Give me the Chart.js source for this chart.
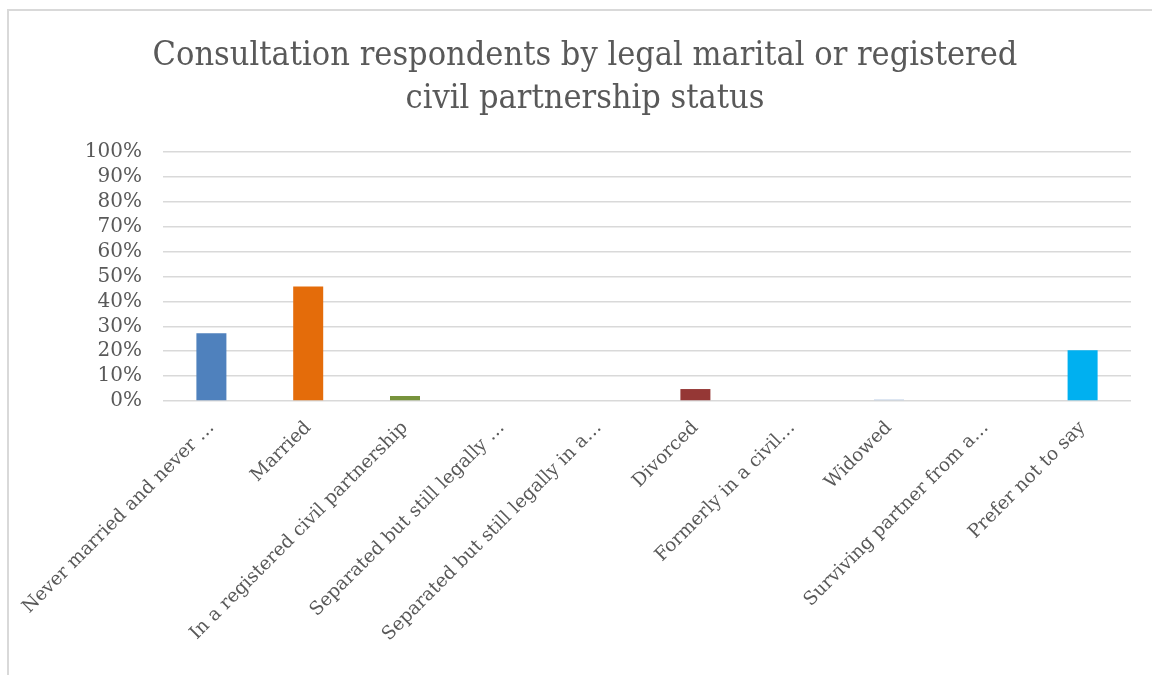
<!DOCTYPE html>
<html>
<head>
<meta charset="utf-8">
<script src="https://cdn.jsdelivr.net/npm/chart.js@4"></script>
<style>
  html, body { margin: 0; padding: 0; background: #fff; }
  .wrap { position: relative; width: 1152px; height: 675px; overflow: hidden; }
  .frame { position: absolute; left: 7px; top: 9px; width: 1200px; height: 700px; border: 2px solid #d9d9d9; box-sizing: border-box; }
  canvas { position: absolute; left: 0; top: 0; }
</style>
</head>
<body>
<div class="wrap">
  <div class="frame"></div>
  <canvas id="chart" width="1152" height="675"></canvas>
</div>
<script>
const categories = [
  'Never married and never …',
  'Married',
  'In a registered civil partnership',
  'Separated but still legally …',
  'Separated but still legally in a…',
  'Divorced',
  'Formerly in a civil…',
  'Widowed',
  'Surviving partner from a…',
  'Prefer not to say'
];
const shares = [27.2, 46, 2, 0, 0, 4.8, 0, 0.6, 0, 20.4];
const barColors = ['#4f81bd', '#e46c0a', '#77933c', '#4f81bd', '#4f81bd', '#953735', '#4f81bd', '#b9cde5', '#4f81bd', '#00b0f0'];
const titleLines = ['Consultation respondents by legal marital or registered', 'civil partnership status'];

const textColor = '#595959';

new Chart(document.getElementById('chart'), {
  type: 'bar',
  data: {
    labels: categories,
    datasets: [{
      data: shares,
      backgroundColor: barColors,
      barPercentage: 0.31,
      categoryPercentage: 1
    }]
  },
  options: {
    responsive: false,
    animation: false,
    // left padding pushes the title centre right, like the original
    layout: { padding: { left: 39, right: 21, top: 0, bottom: 0 } },
    plugins: {
      legend: { display: false },
      tooltip: { enabled: false },
      title: {
        display: true,
        text: titleLines,
        color: textColor,
        font: { family: 'DejaVu Serif Condensed, Liberation Serif, serif', size: 34, weight: 'normal', lineHeight: 1.25 },
        padding: { top: 35, bottom: 32 }
      }
    },
    scales: {
      x: {
        grid: { display: false },
        border: { display: false },
        ticks: {
          autoSkip: false,
          minRotation: 45,
          maxRotation: 45,
          color: textColor,
          padding: 8,
          font: { family: 'DejaVu Serif', size: 18.5 }
        },
        afterFit: (scale) => {
          scale.height = 274;
          // long first label may hang into the y-axis area, don't shrink the plot for it
          scale.paddingLeft = 0;
        }
      },
      y: {
        min: 0,
        max: 100,
        grid: { color: '#d9d9d9', lineWidth: 1.5, drawTicks: false },
        border: { display: false },
        ticks: {
          autoSkip: false,
          stepSize: 10,
          color: textColor,
          padding: 21,
          font: { family: 'DejaVu Serif', size: 20 },
          callback: (v) => v + '%'
        },
        afterFit: (scale) => { scale.width = 124; }
      }
    }
  }
});
</script>
</body>
</html>
